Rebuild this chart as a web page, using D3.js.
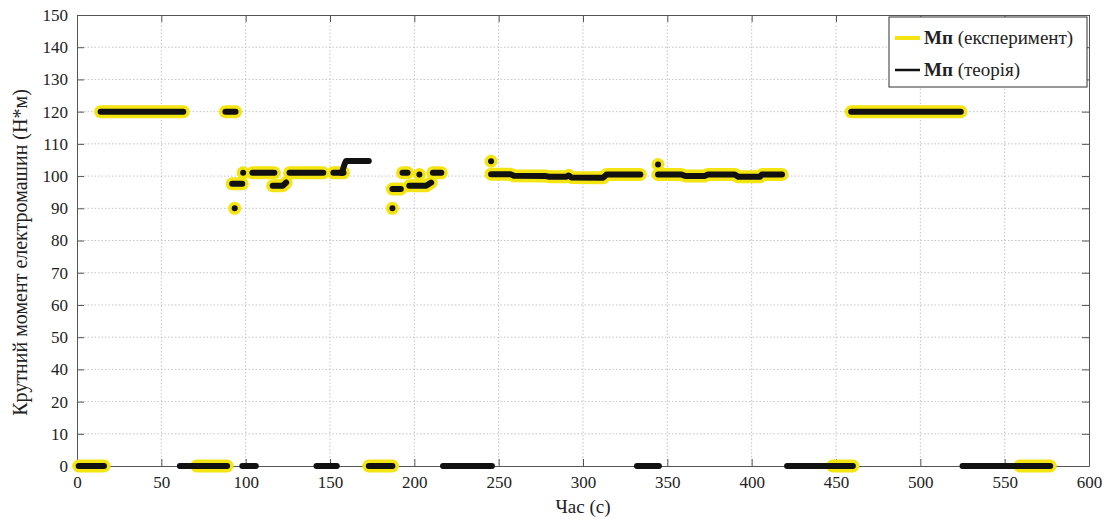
<!DOCTYPE html>
<html>
<head>
<meta charset="utf-8">
<script src="https://cdn.jsdelivr.net/npm/d3@7"></script>
<style>
  body { margin: 0; background: #fff; }
</style>
</head>
<body>
<svg id="chart" width="1108" height="519"></svg>
<script>
// tick values / labels as printed on the axes
const xTicks = [0, 50, 100, 150, 200, 250, 300, 350, 400, 450, 500, 550, 600];
const yTicks = [0, 10, 20, 40, 50, 60, 70, 80, 90, 100, 110, 120, 130, 140, 150];

// experiment (yellow): segments of [time s, torque N*m]
const expSegments = [
  [[1, 0], [16, 0]],
  [[14, 120], [63, 120]],
  [[71, 0], [89, 0]],
  [[88, 120], [94, 120]],
  [[93.5, 90]],
  [[92, 97.6], [98, 97.6]],
  [[98.5, 101]],
  [[104, 101], [117, 101]],
  [[116, 97], [122, 97], [124, 98]],
  [[126, 101], [146, 101]],
  [[152, 101], [158, 101]],
  [[173, 0], [187, 0]],
  [[187, 90]],
  [[187, 96], [192, 96]],
  [[193, 101], [196, 101]],
  [[197, 97], [207, 97], [210, 98]],
  [[203, 100.5]],
  [[211, 101], [216, 101]],
  [[245.5, 104.6]],
  [[245.5, 100.6], [257, 100.6], [259, 100.1], [278, 100], [280, 99.8], [290, 99.8],
   [291.5, 100.2], [293, 99.6], [312, 99.5], [314, 100.5], [334, 100.5]],
  [[344.5, 103.6]],
  [[344.5, 100.5], [358, 100.5], [361, 100], [372, 100], [374, 100.5], [390, 100.5],
   [392, 99.8], [405, 99.8], [406, 100.5], [418, 100.5]],
  [[448, 0], [460, 0]],
  [[459, 120], [524, 120]],
  [[559, 0], [577, 0]]
];

// theory (black): same course plus the parts not covered by the experiment
const theoryExtra = [
  [[61, 0], [72, 0]],
  [[98, 0], [106, 0]],
  [[142, 0], [154, 0]],
  [[157, 101], [158.5, 103.5], [159.5, 104.7], [173, 104.7]],
  [[217, 0], [246, 0]],
  [[332, 0], [345, 0]],
  [[421, 0], [449, 0]],
  [[525, 0], [560, 0]]
];
const theorySegments = expSegments.concat(theoryExtra);

const legendLabels = ["(експеримент)", "(теорія)"];

const plotL = 77, plotR = 1089, plotT = 15, plotB = 466;
const yellow = '#f4e410';
const FONT = 'Liberation Serif';

const svg = d3.select('#chart').attr('font-family', FONT);

const x = d3.scaleLinear().domain([0, 600]).range([plotL, plotR]);
// the printed axis skips 30, so the lower part is piecewise
const y = d3.scaleLinear()
  .domain([0, 10, 20, 40, 150])
  .range([plotB, plotB - 32.2, plotB - 64.4, plotB - 96.6, plotT]);

// grid
const grid = svg.append('g');
grid.selectAll('line.gx')
  .data(xTicks.slice(1, -1))
  .join('line')
  .attr('class', 'gx')
  .attr('x1', d => x(d)).attr('x2', d => x(d))
  .attr('y1', plotT).attr('y2', plotB)
  .attr('stroke', '#c4c4c4').attr('stroke-dasharray', '1.5,2');
grid.selectAll('line.gy')
  .data(yTicks.slice(1, -1))
  .join('line')
  .attr('class', 'gy')
  .attr('x1', plotL).attr('x2', plotR)
  .attr('y1', d => y(d)).attr('y2', d => y(d))
  .attr('stroke', '#c4c4c4').attr('stroke-dasharray', '1.5,2');

// axes, ticks inside, like a boxed plot
const axisStyle = g => {
  g.attr('font-family', FONT).attr('font-size', 17);
  g.selectAll('.domain').attr('stroke', '#555');
  g.selectAll('.tick line').attr('stroke', '#555');
  g.selectAll('.tick text').attr('fill', '#222');
};

svg.append('g')
  .attr('transform', `translate(0,${plotB})`)
  .call(d3.axisBottom(x).tickValues(xTicks).tickSize(-7).tickSizeOuter(0).tickPadding(10))
  .call(axisStyle);

svg.append('g')
  .attr('transform', `translate(0,${plotT})`)
  .call(d3.axisTop(x).tickValues(xTicks).tickSize(-7).tickSizeOuter(0).tickFormat(''))
  .call(axisStyle);

svg.append('g')
  .attr('transform', `translate(${plotL},0)`)
  .call(d3.axisLeft(y).tickValues(yTicks).tickSize(-7).tickSizeOuter(0).tickPadding(9)
    .tickFormat(d3.format('d')))
  .call(axisStyle);

svg.append('g')
  .attr('transform', `translate(${plotR},0)`)
  .call(d3.axisRight(y).tickValues(yTicks).tickSize(-7).tickSizeOuter(0).tickFormat(''))
  .call(axisStyle);

// data
const line = d3.line().x(d => x(d[0])).y(d => y(d[1]));

function drawSeries(segs, color, width) {
  const g = svg.append('g');
  g.selectAll('path')
    .data(segs.filter(s => s.length > 1))
    .join('path')
    .attr('d', line)
    .attr('fill', 'none')
    .attr('stroke', color)
    .attr('stroke-width', width)
    .attr('stroke-linecap', 'round')
    .attr('stroke-linejoin', 'round');
  g.selectAll('circle')
    .data(segs.filter(s => s.length === 1))
    .join('circle')
    .attr('cx', d => x(d[0][0]))
    .attr('cy', d => y(d[0][1]))
    .attr('r', width / 2)
    .attr('fill', color);
}

drawSeries(expSegments, yellow, 13);
drawSeries(theorySegments, '#111', 6);

// axis labels
svg.append('text')
  .attr('x', 583).attr('y', 513)
  .attr('text-anchor', 'middle')
  .attr('font-size', 19).attr('fill', '#222')
  .text('Час (с)');

svg.append('text')
  .attr('transform', `translate(27,${(plotT + plotB) / 2 + 12}) rotate(-90)`)
  .attr('text-anchor', 'middle')
  .attr('font-size', 20).attr('fill', '#222')
  .text('Крутний момент електромашин (Н*м)');

// legend
const lg = svg.append('g').attr('transform', 'translate(889,17)');
lg.append('rect')
  .attr('width', 198).attr('height', 70)
  .attr('fill', '#fff').attr('stroke', '#333');

const legendColors = [yellow, '#111'];
const legendWidths = [4, 2.5];
legendLabels.forEach((lab, i) => {
  const cy = 21 + i * 32;
  lg.append('line')
    .attr('x1', 6).attr('x2', 31)
    .attr('y1', cy).attr('y2', cy)
    .attr('stroke', legendColors[i]).attr('stroke-width', legendWidths[i]);
  const t = lg.append('text')
    .attr('x', 35).attr('y', cy + 6)
    .attr('font-size', 19).attr('fill', '#222');
  t.append('tspan').attr('font-weight', 'bold').text('Мп');
  t.append('tspan').text(' ' + lab);
});
</script>
</body>
</html>
